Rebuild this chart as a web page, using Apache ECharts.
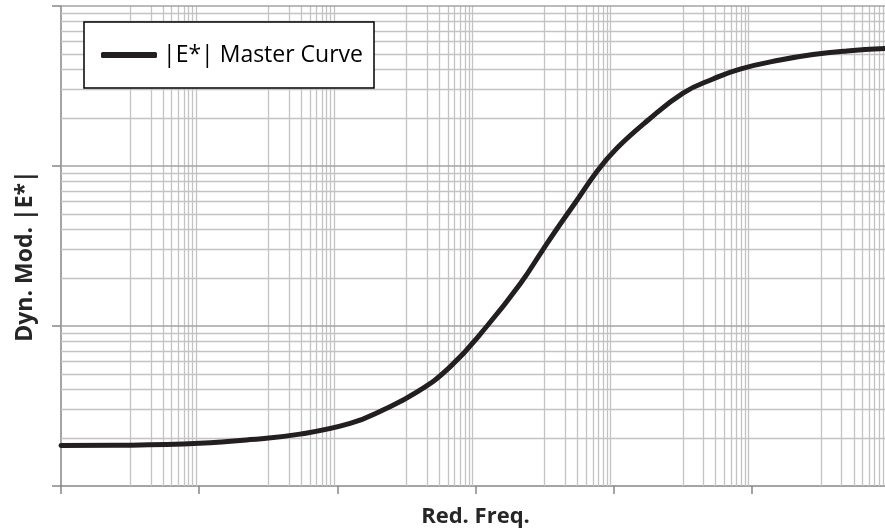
<!DOCTYPE html>
<html><head><meta charset="utf-8">
<script src="https://cdn.jsdelivr.net/npm/echarts@6/dist/echarts.min.js"></script>
<style>html,body{margin:0;padding:0;background:#fff}#c{width:885px;height:531px}</style>
</head><body><div id="c"></div>
<script>
// ---- data (log-log master curve) ----
const seriesName = '|E*| Master Curve';
const freq = [1e-6, 1e-5, 1e-4, 5.45e-4, 2.88e-3, 1.53e-2, 4.58e-2, 0.143, 0.428, 1.47, 4.42, 9.18, 14.7, 27.6, 59.4, 112, 304, 1009, 2742, 6745, 25590, 76910, 238800, 847200];
const modulus = [17.9, 18.0, 18.5, 19.5, 21.1, 24.6, 29.9, 38.7, 55.5, 100, 183, 294, 398, 587, 944, 1296, 1910, 2858, 3499, 4037, 4597, 4977, 5236, 5420];

// ---- axis ranges and gridline positions ----
const xMin = 1e-6, xMax = 1e6;
const yMin = 10, yMax = 10000;
const xMinorDecades = [1e-5, 1e-3, 1e-1, 1e1, 1e3, 1e5];
const xMinorMultipliers = [1, 2, 3, 4, 5, 6, 7, 8, 9];
const yMinorDecades = [10, 100, 1000];
const yMinorMultipliers = [2, 3, 4, 5, 6, 7, 8, 9];
const yMajorLines = [100, 1000, 10000];

const curve = freq.map((f, i) => [f, modulus[i]]);

const vLines = [];
xMinorDecades.forEach(d => xMinorMultipliers.forEach(m => vLines.push({ xAxis: m * d })));
const hMinor = [];
yMinorDecades.forEach(d => yMinorMultipliers.forEach(m => hMinor.push({ yAxis: m * d })));
const hMajor = yMajorLines.map(v => ({ yAxis: v }));

const FONT = '"Open Sans", "Liberation Sans", sans-serif';
const axisGray = '#868686';

const chart = echarts.init(document.getElementById('c'), null, { renderer: 'canvas' });
chart.setOption({
  animation: false,
  backgroundColor: '#ffffff',
  textStyle: { fontFamily: FONT },
  grid: { left: 61, top: 6, width: 829, height: 480, containLabel: false, outerBoundsMode: 'none' },
  legend: {
    data: [seriesName],
    z: 20,
    left: 84, top: 22,
    padding: [19, 11, 19, 17],
    backgroundColor: '#ffffff',
    borderColor: '#000000',
    borderWidth: 1.5,
    borderRadius: 0,
    icon: 'roundRect',
    itemWidth: 56, itemHeight: 6,
    itemGap: 0,
    itemStyle: { color: '#231f20', borderWidth: 0 },
    textStyle: { fontFamily: FONT, fontSize: 23, color: '#000000', lineHeight: 28, padding: [0, 0, 0, 1] }
  },
  xAxis: {
    type: 'log', logBase: 100, min: xMin, max: xMax,
    name: 'Red. Freq.', nameLocation: 'middle', nameGap: 20,
    nameTextStyle: { fontFamily: FONT, fontWeight: 'bold', fontSize: 22, color: '#262626' },
    axisLine: { show: true, onZero: false, lineStyle: { color: axisGray, width: 1.5 } },
    axisTick: { show: true, inside: false, length: 8, lineStyle: { color: axisGray, width: 1.5 } },
    axisLabel: { show: false },
    splitLine: { show: false },
    minorTick: { show: false }, minorSplitLine: { show: false }
  },
  yAxis: {
    type: 'log', logBase: 10, min: yMin, max: yMax,
    name: 'Dyn. Mod. |E*|', nameLocation: 'middle', nameGap: 24,
    nameTextStyle: { fontFamily: FONT, fontWeight: 'bold', fontSize: 23, color: '#262626', padding: [0, 20, 0, 0] },
    axisLine: { show: true, onZero: false, lineStyle: { color: axisGray, width: 1.5 } },
    axisTick: { show: true, inside: false, length: 9, lineStyle: { color: axisGray, width: 1.5 } },
    axisLabel: { show: false },
    splitLine: { show: false },
    minorTick: { show: false }, minorSplitLine: { show: false }
  },
  series: [
    {
      name: 'minorGrid', type: 'line', data: curve, silent: true, z: 1,
      showSymbol: false, symbol: 'none', lineStyle: { opacity: 0 },
      markLine: {
        z: 1,
        silent: true, symbol: 'none', animation: false, precision: 20,
        label: { show: false },
        lineStyle: { color: '#c3c3c3', width: 1.3, type: 'solid' },
        emphasis: { disabled: true },
        data: vLines.concat(hMinor)
      }
    },
    {
      name: 'majorGrid', type: 'line', data: curve, silent: true, z: 1,
      showSymbol: false, symbol: 'none', lineStyle: { opacity: 0 },
      markLine: {
        z: 1,
        silent: true, symbol: 'none', animation: false, precision: 20,
        label: { show: false },
        lineStyle: { color: '#a3a3a3', width: 1.6, type: 'solid' },
        emphasis: { disabled: true },
        data: hMajor
      }
    },
    {
      name: seriesName, type: 'line', data: curve, z: 5,
      smooth: 0.45, showSymbol: false, symbol: 'none',
      itemStyle: { color: '#231f20' },
      lineStyle: { color: '#231f20', width: 5, cap: 'round', join: 'round' }
    }
  ]
});
</script>
</body></html>
